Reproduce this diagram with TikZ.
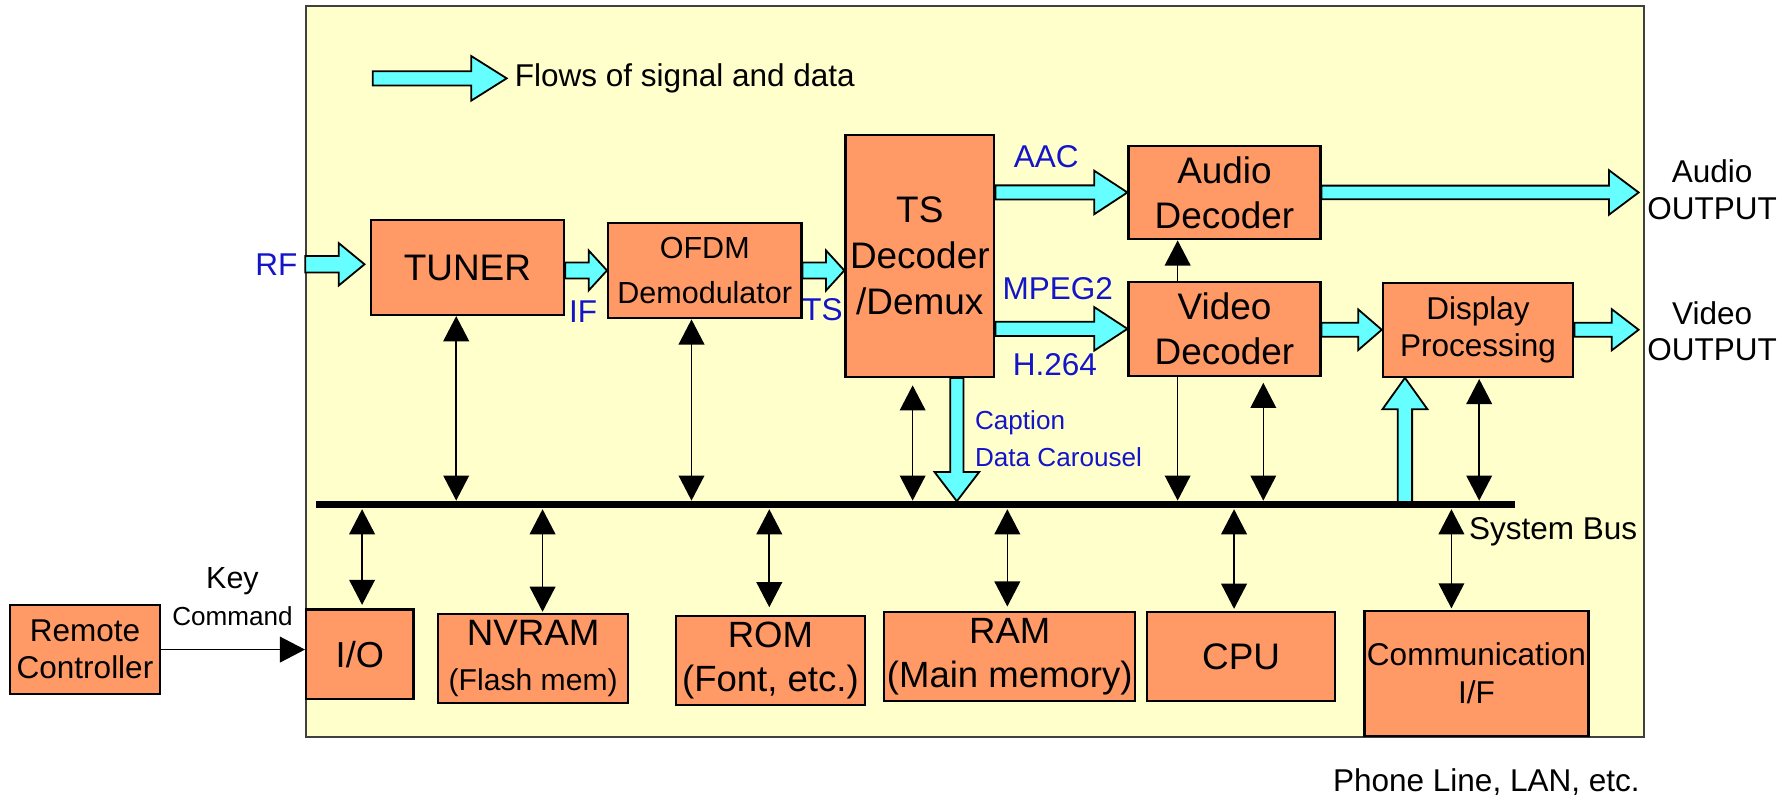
\documentclass[tikz,border=0pt]{standalone}
\usepackage{fontspec}
\setmainfont{Liberation Sans}
\usetikzlibrary{arrows.meta, positioning, calc}
\definecolor{blockorange}{RGB}{255, 153, 102}
\definecolor{boardyellow}{RGB}{255, 255, 204}
\definecolor{flowcyan}{RGB}{102, 255, 255}
\definecolor{signalblue}{RGB}{20, 20, 200}
\definecolor{edgegray}{RGB}{64, 64, 64}
\tikzset{
    % Receiver board (yellow area)
    board/.style={
        rectangle, draw=edgegray, line width=0.45pt, fill=boardyellow, inner sep=0pt
    },
    % Functional blocks
    block/.style={
        rectangle, draw=black, line width=0.55pt, fill=blockorange,
        align=center, inner sep=0pt, font=\fontsize{9.2}{11.2}\selectfont
    },
    % Fat cyan arrows (signal and data flow)
    flow/.style={
        fill=flowcyan, draw=black, line width=0.45pt, line join=miter
    },
    flow head/.store in=\flowhead, flow head=2.9mm,
    flow wing/.store in=\flowwing, flow wing=1.9mm,
    flow shaft/.store in=\flowshaft, flow shaft=0.62mm,
    % Control links and system bus
    link/.style={line width=0.4pt},
    bus/.style={line width=1.8pt},
    % Labels
    plain label/.style={font=\fontsize{7.85}{9.1}\selectfont, align=center},
    signal label/.style={plain label, text=signalblue}
}
% fat arrow from #2 to #3, options in #1
\newcommand{\flowarrow}[3][]{%
    \begin{scope}[#1]
        \coordinate (fa-s) at (#2);
        \coordinate (fa-e) at (#3);
        \coordinate (fa-h) at ($(fa-e)!\flowhead!(fa-s)$);
        \draw[flow] ($(fa-s)!\flowshaft!90:(fa-e)$) -- ($(fa-h)!\flowshaft!90:(fa-e)$)
            -- ($(fa-h)!\flowwing!90:(fa-e)$) -- (fa-e)
            -- ($(fa-h)!\flowwing!-90:(fa-e)$) -- ($(fa-h)!\flowshaft!-90:(fa-e)$)
            -- ($(fa-s)!\flowshaft!-90:(fa-e)$) -- cycle;
    \end{scope}}

\begin{document}
\begin{tikzpicture}[>={Triangle[length=2.2mm, width=2.25mm]}]

    \useasboundingbox (0, 0) rectangle (15.68, -6.99);

    % Board
    \node[board, minimum width=11.71cm, minimum height=6.405cm] (board) at (8.535, -3.2525) {};

    % Legend
    \coordinate (legtail) at (3.263, -0.686);
    \node[plain label, anchor=west, inner sep=0.65mm] (legend) at (4.436, -0.686) {Flows of signal and data};
    \flowarrow[flow head=3.1mm, flow wing=1.95mm]{legtail}{legend.west}

    % ======== SIGNAL PATH ========
    \node[block, minimum width=1.692cm, minimum height=0.832cm] (tuner) at (4.092, -2.342) {TUNER};
    \node[block, minimum width=1.693cm, minimum height=0.837cm, font=\fontsize{7.6}{11.2}\selectfont] (ofdm) at (6.17, -2.368) {OFDM\\Demodulator};
    \node[block, minimum width=1.303cm, minimum height=2.118cm, font=\fontsize{9.2}{11.4}\selectfont] (ts) at (8.053, -2.241) {TS\\Decoder\\/Demux};
    \node[block, minimum width=1.68cm, minimum height=0.82cm] (audio) at (10.72, -1.685) {Audio\\Decoder};
    \node[block, minimum width=1.68cm, minimum height=0.826cm] (video) at (10.72, -2.879) {Video\\Decoder};
    \node[block, minimum width=1.667cm, minimum height=0.823cm, font=\fontsize{7.85}{9.1}\selectfont] (display) at (12.94, -2.887) {Display\\Processing};

    % Outputs
    \node[plain label, inner sep=0.7mm] (audioout) at (14.99, -1.66) {Audio\\OUTPUT};
    \node[plain label, inner sep=0.7mm] (videoout) at (14.99, -2.90) {Video\\OUTPUT};

    % Signal labels
    \node[signal label] (rf) at (2.42, -2.314) {RF};
    \node[signal label] (iflabel) at (5.106, -2.729) {IF};
    \node[signal label] (tslabel) at (7.20, -2.714) {TS};
    \node[signal label] (aac) at (9.16, -1.37) {AAC};
    \node[signal label] (mpeg) at (9.26, -2.53) {MPEG2};
    \node[signal label] (avc) at (9.236, -3.196) {H.264};
    \node[signal label, font=\fontsize{6.5}{9.1}\selectfont, align=left, anchor=west, inner sep=0.3mm] (caption) at (8.50, -3.84) {Caption\\Data Carousel};

    % Flows
    \flowarrow[flow head=2.25mm, flow wing=1.85mm, flow shaft=0.72mm]{board.west |- rf.east}{[xshift=-0.45mm]tuner.west |- rf.east}
    \flowarrow[flow head=1.6mm, flow wing=1.75mm, flow shaft=0.7mm]{tuner.east |- ofdm.west}{ofdm.west}
    \flowarrow[flow head=1.6mm, flow wing=1.75mm, flow shaft=0.7mm]{ofdm.east}{ts.west |- ofdm.east}
    \flowarrow{ts.east |- audio.west}{audio.west}
    \flowarrow{ts.east |- video.west}{video.west}
    \flowarrow[flow head=2.6mm, flow wing=1.95mm, flow shaft=0.6mm]{audio.east}{audioout.west |- audio.east}
    \flowarrow[flow head=2.05mm, flow wing=1.77mm]{video.east |- display.west}{display.west}
    \flowarrow[flow head=2.35mm, flow wing=1.8mm]{display.east}{videoout.west |- display.east}

    % ======== SYSTEM BUS ========
    \coordinate (busL) at (2.77, -4.418);
    \coordinate (busR) at (13.265, -4.418);
    \node[plain label, anchor=west, inner sep=0.3mm] (buslabel) at (12.824, -4.655) {System Bus};

    % Caption down to bus, bus up to display
    \coordinate (capin) at ([xshift=3.24mm]ts.south);
    \flowarrow[flow head=2.55mm, flow wing=1.95mm, flow shaft=0.58mm]{capin}{[yshift=0.3mm]capin |- busL}
    \coordinate (dispin) at ([xshift=-6.4mm]display.south);
    \flowarrow[flow head=2.75mm, flow wing=1.97mm, flow shaft=0.63mm]{dispin |- busL}{dispin}

    % Upper links
    \draw[link, <->, shorten >=0.35mm] ([xshift=-0.98mm]tuner.south) -- ([xshift=-0.98mm]tuner.south |- busL);
    \draw[link, <->, shorten >=0.35mm] ([xshift=-1.16mm]ofdm.south) -- ([xshift=-1.16mm]ofdm.south |- busL);
    \draw[link, <->, shorten <=0.64mm, shorten >=0.35mm] ([xshift=-0.63mm]ts.south) -- ([xshift=-0.63mm]ts.south |- busL);
    \draw[link, ->] ([xshift=-4.1mm]video.north) -- ([xshift=-4.1mm]audio.south);
    \draw[link, ->, shorten >=0.35mm] ([xshift=-4.1mm]video.south) -- ([xshift=-4.1mm]video.south |- busL);
    \draw[link, <->, shorten <=0.5mm, shorten >=0.35mm] ([xshift=3.4mm]video.south) -- ([xshift=3.4mm]video.south |- busL);
    \draw[link, <->, shorten <=0.1mm, shorten >=0.35mm] ([xshift=0.1mm]display.south) -- ([xshift=0.1mm]display.south |- busL);

    \draw[bus] (busL) -- (busR);

    % ======== MEMORY AND PERIPHERALS ========
    \node[block, minimum width=1.307cm, minimum height=0.779cm, font=\fontsize{7.85}{9.3}\selectfont] (remote) at (0.744, -5.687) {Remote\\Controller};
    \node[block, minimum width=0.94cm, minimum height=0.785cm, font=\fontsize{9}{11}\selectfont] (io) at (3.15, -5.728) {I/O};
    \node[block, minimum width=1.665cm, minimum height=0.782cm, font=\fontsize{9.15}{11.2}\selectfont] (nvram) at (4.668, -5.767) {NVRAM\\{\fontsize{7.5}{11.2}\selectfont (Flash mem)}};
    \node[block, minimum width=1.65cm, minimum height=0.782cm, font=\fontsize{9.1}{11}\selectfont] (rom) at (6.745, -5.784) {ROM\\(Font, etc.)};
    \node[block, minimum width=2.197cm, minimum height=0.782cm, font=\fontsize{9.1}{11}\selectfont] (ram) at (8.84, -5.746) {RAM\\(Main memory)};
    \node[block, minimum width=1.645cm, minimum height=0.782cm] (cpu) at (10.866, -5.746) {CPU};
    \node[block, minimum width=1.961cm, minimum height=1.098cm, font=\fontsize{7.85}{9.4}\selectfont] (comm) at (12.926, -5.895) {Communication\\I/F};

    % Lower links
    \draw[link, <->, shorten <=0.4mm, shorten >=0.3mm] ([xshift=0.2mm]io.north |- busL) -- ([xshift=0.2mm]io.north);
    \draw[link, <->, shorten <=0.4mm, shorten >=0.1mm] ([xshift=0.82mm]nvram.north |- busL) -- ([xshift=0.82mm]nvram.north);
    \draw[link, <->, shorten <=0.4mm, shorten >=0.67mm] ([xshift=-0.1mm]rom.north |- busL) -- ([xshift=-0.1mm]rom.north);
    \draw[link, <->, shorten <=0.4mm, shorten >=0.35mm] ([xshift=-0.21mm]ram.north |- busL) -- ([xshift=-0.21mm]ram.north);
    \draw[link, <->, shorten <=0.4mm, shorten >=0.15mm] ([xshift=-0.62mm]cpu.north |- busL) -- ([xshift=-0.62mm]cpu.north);
    \draw[link, <->, shorten <=0.4mm, shorten >=0.1mm] ([xshift=-2.19mm]comm.north |- busL) -- ([xshift=-2.19mm]comm.north);

    % Remote key command
    \draw[link, ->] (remote.east) -- (remote.east -| io.west);
    \node[plain label] (keycmd) at (2.035, -5.224) {{\fontsize{7.6}{9.1}\selectfont Key}\\{\fontsize{6.5}{9.1}\selectfont Command}};

    % External line
    \node[plain label] (phone) at (13.013, -6.843) {Phone Line, LAN, etc.};

\end{tikzpicture}
\end{document}
